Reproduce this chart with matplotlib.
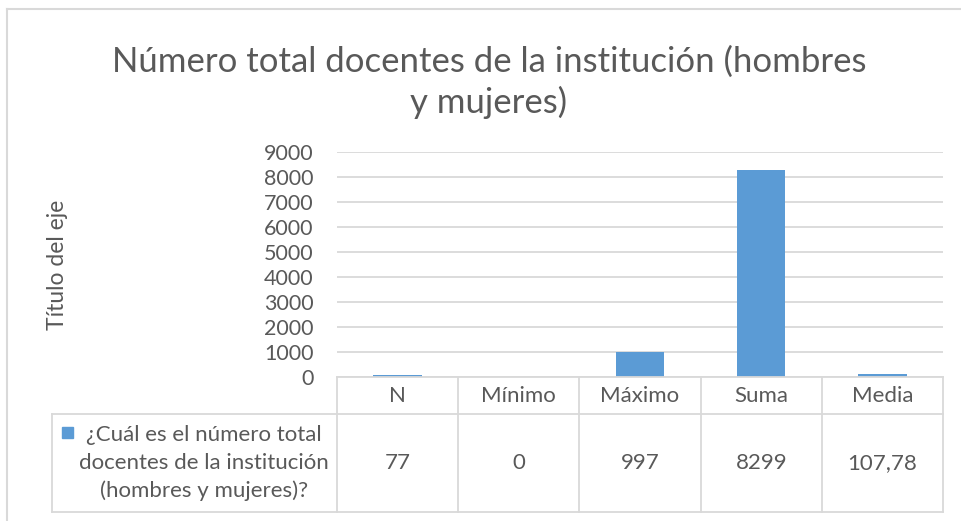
import matplotlib
matplotlib.use("Agg")
import matplotlib.pyplot as plt
from matplotlib.lines import Line2D
from matplotlib.patches import Rectangle
import matplotlib.transforms as mtransforms

categories = ["N", "Mínimo", "Máximo", "Suma", "Media"]
values = [77, 0, 997, 8299, 107.78]
value_labels = ["77", "0", "997", "8299", "107,78"]
series_name = "¿Cuál es el número total\ndocentes de la institución\n(hombres y mujeres)?"
title = "Número total docentes de la institución (hombres\ny mujeres)"
y_ticks = [0, 1000, 2000, 3000, 4000, 5000, 6000, 7000, 8000, 9000]

W, H = 961, 521
FONT = "Lato"
TXT = "#595959"
GRID = "#d9d9d9"
BAR = "#5b9bd5"

plt.rcParams["font.family"] = [FONT, "DejaVu Sans"]

fig = plt.figure(figsize=(W / 100, H / 100), dpi=100)

def fx(px):
    return px / W

def fy(py):
    return 1 - py / H

ax_left, ax_right, ax_top, ax_bottom = 337, 943, 152, 377
ax = fig.add_axes([fx(ax_left), fy(ax_bottom), fx(ax_right - ax_left), fy(ax_top) - fy(ax_bottom)])

x = list(range(len(categories)))
ax.bar(x, values, width=0.4, color=BAR, zorder=3)
ax.set_xlim(-0.5, len(categories) - 0.5)
ax.set_ylim(0, 9000)
ax.set_yticks(y_ticks)
ax.set_yticklabels([str(t) for t in y_ticks], fontsize=15.5, color=TXT)
ax.tick_params(axis="y", length=0, pad=17)
ax.set_xticks([])
ax.grid(axis="y", color=GRID, linewidth=1.3, zorder=0)
for s in ax.spines.values():
    s.set_visible(False)

# outer chart border (left and top)
fig.add_artist(Line2D([fx(7), fx(7)], [fy(9), fy(521)], color=GRID, lw=1.5))
fig.add_artist(Line2D([fx(7), fx(961)], [fy(9), fy(9)], color=GRID, lw=1.5))

# title
fig.text(fx(489), fy(82), title, ha="center", va="center", fontsize=25, color=TXT,
         linespacing=1.3)

# y axis title
fig.text(fx(58), fy(265), "Título del eje", rotation=90, ha="center", va="center",
         fontsize=16.5, color=TXT)

# data table: x in data coords, y in figure coords
trans = mtransforms.blended_transform_factory(ax.transData, fig.transFigure)
row_top, row_mid, row_bot = 377, 414, 512
legend_left = 52
lw = 1.3

xl, xr = -0.5, len(categories) - 0.5
fig.add_artist(Line2D([xl, xr], [fy(row_top), fy(row_top)], transform=trans, color=GRID, lw=lw))
fig.add_artist(Line2D([fx(legend_left), fx(ax_right)], [fy(row_mid), fy(row_mid)], color=GRID, lw=lw))
fig.add_artist(Line2D([fx(legend_left), fx(ax_right)], [fy(row_bot), fy(row_bot)], color=GRID, lw=lw))
fig.add_artist(Line2D([fx(legend_left), fx(legend_left)], [fy(row_mid), fy(row_bot)], color=GRID, lw=lw))
for i in range(len(categories) + 1):
    xb = i - 0.5
    fig.add_artist(Line2D([xb, xb], [fy(row_top), fy(row_bot)], transform=trans, color=GRID, lw=lw))

for i, (c, v) in enumerate(zip(categories, value_labels)):
    fig.text(i, fy((row_top + row_mid) / 2), c, transform=trans, ha="center", va="center",
             fontsize=16, color=TXT)
    fig.text(i, fy((row_mid + row_bot) / 2), v, transform=trans, ha="center", va="center",
             fontsize=16, color=TXT)

fig.text(fx(204), fy((row_mid + row_bot) / 2), series_name, ha="center", va="center",
         fontsize=16, color=TXT, linespacing=1.45, multialignment="center")
fig.add_artist(Rectangle((fx(62), fy(438)), fx(11), fy(427) - fy(438), color=BAR))

fig.savefig("out.png", dpi=100)
